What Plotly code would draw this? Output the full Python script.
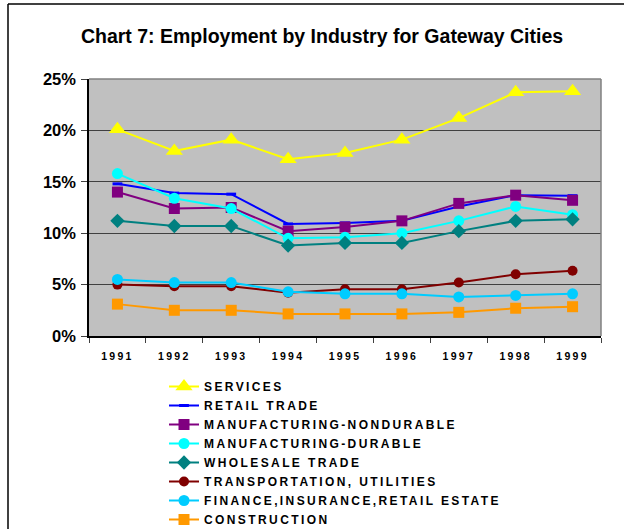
import plotly.graph_objects as go

years = ["1991", "1992", "1993", "1994", "1995", "1996", "1997", "1998", "1999"]

services = [20.1, 18.0, 19.1, 17.2, 17.8, 19.1, 21.2, 23.7, 23.8]
retail_trade = [14.8, 13.9, 13.8, 10.9, 11.0, 11.2, 12.6, 13.7, 13.65]
mfg_nondurable = [14.0, 12.4, 12.5, 10.2, 10.6, 11.2, 12.9, 13.7, 13.2]
mfg_durable = [15.8, 13.4, 12.4, 9.5, 9.6, 10.0, 11.2, 12.6, 11.8]
wholesale_trade = [11.2, 10.7, 10.7, 8.8, 9.05, 9.05, 10.2, 11.2, 11.35]
transportation = [5.0, 4.85, 4.85, 4.2, 4.55, 4.55, 5.2, 6.0, 6.35]
finance = [5.5, 5.2, 5.2, 4.3, 4.1, 4.1, 3.8, 3.95, 4.1]
construction = [3.1, 2.5, 2.5, 2.15, 2.15, 2.15, 2.3, 2.7, 2.85]

series_names = [
    "SERVICES",
    "RETAIL TRADE",
    "MANUFACTURING-NONDURABLE",
    "MANUFACTURING-DURABLE",
    "WHOLESALE TRADE",
    "TRANSPORTATION, UTILITIES",
    "FINANCE,INSURANCE,RETAIL ESTATE",
    "CONSTRUCTION",
]
series_values = [services, retail_trade, mfg_nondurable, mfg_durable,
                 wholesale_trade, transportation, finance, construction]
colors = ["#FFFF00", "#0000FF", "#800080", "#00FFFF", "#008080", "#800000", "#00CCFF", "#FF9900"]
symbols = ["triangle-up", "line-ew-open", "square", "circle", "diamond", "circle", "circle", "square"]
sizes = [15, 7, 11, 11, 11, 10, 11, 11]

y_ticks = [0, 5, 10, 15, 20, 25]
y_tick_labels = ["0%", "5%", "10%", "15%", "20%", "25%"]

fig = go.Figure()
for name, vals, col, sym, sz in zip(series_names, series_values, colors, symbols, sizes):
    marker = dict(symbol=sym, size=sz, color=col)
    if sym == "line-ew-open":
        marker["line"] = dict(color=col, width=3)
    else:
        marker["line"] = dict(width=0)
    fig.add_trace(go.Scatter(
        x=years, y=vals, mode="lines+markers",
        name='<span style="letter-spacing:2.4px">' + name + '</span>',
        line=dict(color=col, width=2),
        marker=marker,
    ))

L, R, T, B = 89, 23, 79, 193
W, H = 624, 529
pw = W - L - R
ph = H - T - B

def px_x(x):
    return (x - L) / pw

def px_y(y):
    return (H - B - y) / ph

fig.update_layout(
    width=W, height=H,
    margin=dict(l=L, r=R, t=T, b=B, pad=0, autoexpand=False),
    paper_bgcolor="white",
    plot_bgcolor="#C0C0C0",
    font=dict(family="Liberation Sans, Arial, sans-serif", color="black"),
    title=dict(
        text="<b>Chart 7: Employment by Industry for Gateway Cities</b>",
        x=322 / W, xanchor="center", xref="container",
        y=1 - 36 / H, yanchor="middle", yref="container",
        font=dict(size=19.5, color="black"),
    ),
    xaxis=dict(
        type="category",
        tickvals=years,
        ticktext=['<span style="letter-spacing:2.3px">' + y + '</span>' for y in years],
        range=[-0.5, 8.5],
        tickson="boundaries",
        ticks="outside", ticklen=5, tickcolor="#404040", tickwidth=1,
        showline=True, linecolor="black", linewidth=2,
        showgrid=False, zeroline=False,
        tickfont=dict(size=10.5, weight="bold"),
        ticklabelstandoff=9,
        automargin=False,
    ),
    yaxis=dict(
        range=[0, 25],
        tickvals=y_ticks, ticktext=y_tick_labels,
        ticks="outside", ticklen=6, tickcolor="#404040", tickwidth=1,
        showline=True, linecolor="black", linewidth=1.5,
        showgrid=True, gridcolor="#404040", gridwidth=1,
        zeroline=False,
        tickfont=dict(size=16.5, weight="bold"),
        ticklabelstandoff=2,
        automargin=False,
    ),
    legend=dict(
        xref="container", yref="container",
        x=164 / W, xanchor="left",
        y=1 - 372 / H, yanchor="top",
        bgcolor="rgba(0,0,0,0)",
        font=dict(size=12, weight="bold"),
        tracegroupgap=0,
    ),
    showlegend=True,
    shapes=[
        dict(type="line", xref="paper", yref="paper", x0=0, x1=1, y0=1, y1=1,
             line=dict(color="#808080", width=1.5)),
        dict(type="line", xref="paper", yref="paper", x0=1, x1=1, y0=0, y1=1,
             line=dict(color="#808080", width=1.5)),
        dict(type="line", xref="paper", yref="paper", x0=px_x(8), x1=px_x(8),
             y0=px_y(4), y1=px_y(540), line=dict(color="black", width=1.5)),
        dict(type="line", xref="paper", yref="paper", x0=px_x(8), x1=px_x(640),
             y0=px_y(4), y1=px_y(4), line=dict(color="black", width=1.5)),
    ],
)

fig.write_html("out.html", config={"displayModeBar": False},
               post_script="document.body.style.margin='0';")
